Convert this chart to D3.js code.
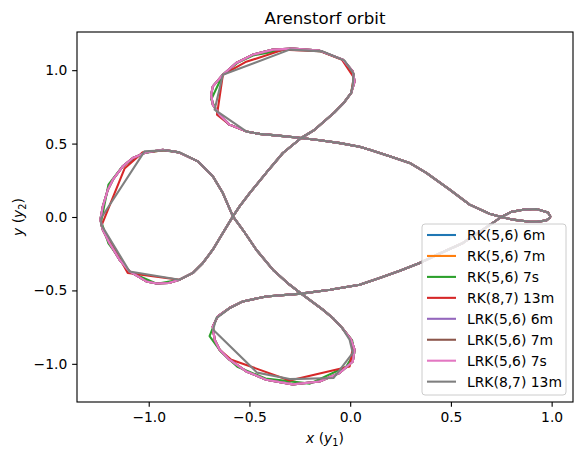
<!DOCTYPE html>
<html>
<head>
<meta charset="utf-8">
<script src="https://cdn.jsdelivr.net/npm/d3@7"></script>
<style>
  body { margin: 0; background: #fff; }
  svg { font-family: "DejaVu Sans", sans-serif; }
</style>
</head>
<body>
<div id="chart"></div>
<script>
const seriesNames = ["RK(5,6) 6m", "RK(5,6) 7m", "RK(5,6) 7s", "RK(8,7) 13m", "LRK(5,6) 6m", "LRK(5,6) 7m", "LRK(5,6) 7s", "LRK(8,7) 13m"];
const seriesColors = ["#1f77b4", "#ff7f0e", "#2ca02c", "#d62728", "#9467bd", "#8c564b", "#e377c2", "#7f7f7f"];
const xTicks = [-1.0, -0.5, 0.0, 0.5, 1.0];
const yTicks = [-1.0, -0.5, 0.0, 0.5, 1.0];

// parts of the orbit where every solver draws the same smooth curve
const moonToUpper = [[0.995,0.0],[0.974,-0.023],[0.93,-0.032],[0.891,-0.032],[0.808,-0.018],[0.75,0.0],[0.692,0.022],[0.593,0.084],[0.494,0.186],[0.378,0.3],[0.295,0.368],[0.196,0.413],[0.097,0.458],[0.047,0.478],[-0.05,0.503],[-0.15,0.523],[-0.243,0.538],[-0.357,0.554],[-0.45,0.566],[-0.516,0.583]];
const upperToLeft = [[0.005,0.845],[-0.03,0.78],[-0.08,0.71],[-0.177,0.594],[-0.243,0.538],[-0.334,0.436],[-0.417,0.3],[-0.499,0.163],[-0.549,0.072],[-0.582,0.004],[-0.632,-0.109],[-0.682,-0.223],[-0.731,-0.313],[-0.781,-0.381],[-0.847,-0.427]];
const leftToLower = [[-0.756,0.379],[-0.682,0.277],[-0.632,0.163],[-0.582,0.004],[-0.533,-0.087],[-0.466,-0.223],[-0.384,-0.359],[-0.301,-0.461],[-0.243,-0.522],[-0.136,-0.631],[-0.085,-0.69],[-0.04,-0.755]];
const lowerToMoon = [[-0.533,-0.575],[-0.417,-0.541],[-0.243,-0.522],[-0.1,-0.495],[0.047,-0.461],[0.146,-0.416],[0.25,-0.365],[0.345,-0.313],[0.45,-0.245],[0.56,-0.177],[0.65,-0.095],[0.75,0.0],[0.8,0.035],[0.858,0.05],[0.924,0.054],[0.982,0.031],[0.995,0.0]];

// the three loops, where the step sizes differ between solvers
const fineUpper = [[-0.516,0.583],[-0.599,0.629],[-0.648,0.697],[-0.682,0.765],[-0.69,0.833],[-0.682,0.89],[-0.632,0.969],[-0.566,1.049],[-0.483,1.106],[-0.384,1.14],[-0.285,1.147],[-0.152,1.133],[-0.036,1.072],[0.013,0.992],[0.022,0.924],[0.005,0.845]];
const fineLeft = [[-0.847,-0.427],[-0.9,-0.45],[-0.96,-0.453],[-1.012,-0.439],[-1.095,-0.371],[-1.145,-0.291],[-1.195,-0.177],[-1.228,-0.087],[-1.24,-0.018],[-1.228,0.072],[-1.203,0.186],[-1.178,0.254],[-1.129,0.345],[-1.079,0.402],[-1.012,0.44],[-0.93,0.458],[-0.85,0.44],[-0.756,0.379]];
const fineLower = [[-0.04,-0.755],[0.005,-0.836],[0.022,-0.904],[0.013,-0.984],[-0.053,-1.063],[-0.152,-1.12],[-0.285,-1.14],[-0.417,-1.108],[-0.516,-1.052],[-0.599,-0.972],[-0.648,-0.904],[-0.673,-0.836],[-0.682,-0.745],[-0.657,-0.677],[-0.599,-0.62],[-0.533,-0.575]];

const greenUpper = [[-0.516,0.583],[-0.599,0.629],[-0.655,0.7],[-0.69,0.8],[-0.632,0.969],[-0.56,1.05],[-0.483,1.1],[-0.3,1.145],[-0.15,1.13],[-0.036,1.07],[0.018,0.97],[0.013,0.9],[0.005,0.845]];
const greenLeft = [[-0.847,-0.427],[-0.96,-0.455],[-1.095,-0.375],[-1.2,-0.18],[-1.236,-0.03],[-1.2,0.22],[-1.13,0.345],[-1.03,0.435],[-0.93,0.455],[-0.85,0.44],[-0.756,0.379]];
const greenLower = [[-0.04,-0.755],[0.01,-0.84],[0.02,-0.93],[-0.02,-1.02],[-0.2,-1.135],[-0.42,-1.1],[-0.56,-1.02],[-0.64,-0.92],[-0.698,-0.811],[-0.66,-0.68],[-0.6,-0.62],[-0.533,-0.575]];

const redUpper = [[-0.516,0.583],[-0.599,0.629],[-0.661,0.697],[-0.632,0.969],[-0.52,1.055],[-0.33,1.14],[-0.15,1.13],[-0.04,1.07],[0.018,0.95],[0.005,0.845]];
const redLeft = [[-0.847,-0.427],[-1.104,-0.381],[-1.235,-0.06],[-1.12,0.33],[-1.03,0.44],[-0.913,0.455],[-0.85,0.44],[-0.756,0.379]];
const redLower = [[-0.04,-0.755],[0.005,-0.836],[0.013,-0.89],[-0.003,-1.018],[-0.3,-1.113],[-0.59,-0.972],[-0.648,-0.904],[-0.673,-0.836],[-0.682,-0.745],[-0.657,-0.677],[-0.599,-0.62],[-0.533,-0.575]];

const grayUpper = [[-0.516,0.583],[-0.673,0.731],[-0.632,0.969],[-0.3,1.14],[-0.136,1.128],[-0.028,1.065],[0.017,0.977],[0.013,0.901],[0.005,0.845]];
const grayLeft = [[-0.847,-0.427],[-1.095,-0.371],[-1.236,-0.052],[-1.236,-0.007],[-1.021,0.447],[-0.913,0.454],[-0.847,0.44],[-0.756,0.379]];
const grayLower = [[-0.04,-0.755],[-0.003,-0.836],[0.013,-0.926],[-0.083,-1.097],[-0.3,-1.104],[-0.462,-1.06],[-0.68,-0.768],[-0.665,-0.69],[-0.6,-0.622],[-0.533,-0.575]];

const loopsFine = [fineUpper, fineLeft, fineLower];
const loopsGreen = [greenUpper, greenLeft, greenLower];
const loopsRed = [redUpper, redLeft, redLower];
const loopsGray = [grayUpper, grayLeft, grayLower];
const seriesLoops = [loopsFine, loopsFine, loopsGreen, loopsRed, loopsFine, loopsFine, loopsFine, loopsGray];

const margin = { top: 32, right: 9, bottom: 57, left: 77 };
const fullWidth = 582;
const fullHeight = 459;
const width = fullWidth - margin.left - margin.right;
const height = fullHeight - margin.top - margin.bottom;
const px = 100 / 72; // points to pixels

const svg = d3.select('#chart')
  .append('svg')
  .attr('width', fullWidth)
  .attr('height', fullHeight);

svg.append('rect').attr('width', fullWidth).attr('height', fullHeight).attr('fill', '#fff');

const g = svg.append('g').attr('transform', `translate(${margin.left},${margin.top})`);

const xScale = d3.scaleLinear().domain([-1.356, 1.106]).range([0, width]);
const yScale = d3.scaleLinear().domain([-1.26, 1.26]).range([height, 0]);

const orbit = loops => [].concat(moonToUpper, loops[0], upperToLeft, loops[1], leftToLower, loops[2], lowerToMoon);

const line = d3.line()
  .x(d => xScale(d[0]))
  .y(d => yScale(d[1]));

g.append('clipPath').attr('id', 'clip')
  .append('rect').attr('width', width).attr('height', height);

const plot = g.append('g').attr('clip-path', 'url(#clip)');
seriesNames.forEach((name, i) => {
  plot.append('path')
    .datum(orbit(seriesLoops[i]))
    .attr('d', line)
    .attr('fill', 'none')
    .attr('stroke', seriesColors[i])
    .attr('stroke-width', 1.5 * px)
    .attr('stroke-linejoin', 'round');
});

const xAxis = d3.axisBottom(xScale)
  .tickValues(xTicks)
  .tickFormat(d3.format('.1f'))
  .tickSize(3.5 * px)
  .tickPadding(3.5 * px);

const yAxis = d3.axisLeft(yScale)
  .tickValues(yTicks)
  .tickFormat(d3.format('.1f'))
  .tickSize(3.5 * px)
  .tickPadding(3.5 * px);

const gx = g.append('g').attr('transform', `translate(0,${height})`).call(xAxis);
const gy = g.append('g').call(yAxis);
[gx, gy].forEach(a => {
  a.select('.domain').remove();
  a.selectAll('line').attr('stroke', '#000').attr('stroke-width', 0.8 * px);
  a.selectAll('text')
    .attr('fill', '#000')
    .attr('font-family', '"DejaVu Sans", sans-serif')
    .attr('font-size', 10 * px);
});

g.append('rect')
  .attr('width', width)
  .attr('height', height)
  .attr('fill', 'none')
  .attr('stroke', '#000')
  .attr('stroke-width', 0.8 * px);

// title and axis labels
svg.append('text')
  .attr('x', margin.left + width / 2)
  .attr('y', 24)
  .attr('text-anchor', 'middle')
  .attr('font-size', 12 * px)
  .text('Arenstorf orbit');

const xl = svg.append('text')
  .attr('x', margin.left + width / 2)
  .attr('y', 443)
  .attr('text-anchor', 'middle')
  .attr('font-size', 10 * px);
xl.append('tspan').attr('font-style', 'italic').text('x');
xl.append('tspan').text(' (');
xl.append('tspan').attr('font-style', 'italic').text('y');
xl.append('tspan').attr('font-size', 7 * px).attr('dy', 3).text('1');
xl.append('tspan').attr('dy', -3).text(')');

const yl = svg.append('text')
  .attr('transform', `translate(23,${margin.top + height / 2}) rotate(-90)`)
  .attr('text-anchor', 'middle')
  .attr('font-size', 10 * px);
yl.append('tspan').attr('font-style', 'italic').text('y');
yl.append('tspan').text(' (');
yl.append('tspan').attr('font-style', 'italic').text('y');
yl.append('tspan').attr('font-size', 7 * px).attr('dy', 3).text('2');
yl.append('tspan').attr('dy', -3).text(')');

// legend, lower right
const legend = svg.append('g').attr('transform', 'translate(422,224)');
legend.append('rect')
  .attr('width', 144)
  .attr('height', 171)
  .attr('rx', 3)
  .attr('fill', '#fff')
  .attr('fill-opacity', 0.8)
  .attr('stroke', '#cccccc')
  .attr('stroke-width', 1);

seriesNames.forEach((name, i) => {
  const row = legend.append('g').attr('transform', `translate(0,${11 + i * 20.95})`);
  row.append('line')
    .attr('x1', 5).attr('x2', 34)
    .attr('stroke', seriesColors[i])
    .attr('stroke-width', 1.5 * px);
  row.append('text')
    .attr('x', 45)
    .attr('dy', '0.35em')
    .attr('font-size', 10 * px)
    .text(name);
});
</script>
</body>
</html>
